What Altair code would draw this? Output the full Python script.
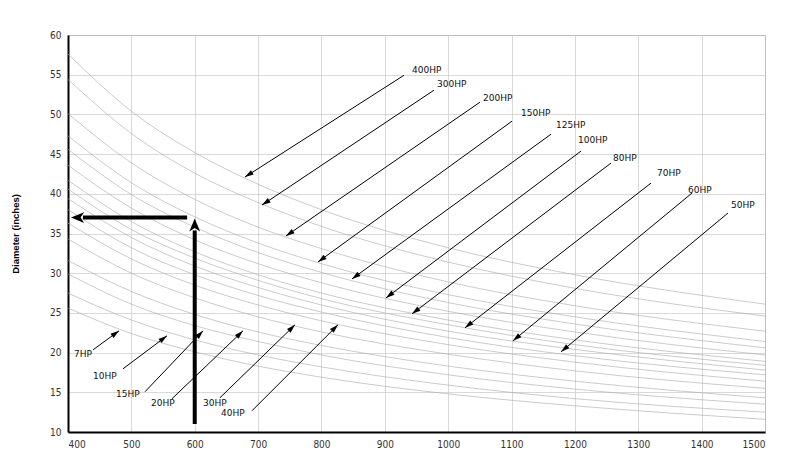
import math
import altair as alt
import pandas as pd

# ---------------- data ----------------
rpm = [400, 500, 600, 700, 800, 1000, 1200, 1500]

hp_names = ["7HP", "10HP", "15HP", "20HP", "30HP", "40HP", "50HP", "60HP",
            "70HP", "80HP", "100HP", "125HP", "150HP", "200HP", "300HP", "400HP"]

d_7 = [25.6, 22.4, 20.1, 18.3, 16.9, 14.8, 13.3, 11.6]
d_10 = [27.5, 24.1, 21.6, 19.7, 18.2, 15.9, 14.2, 12.5]
d_15 = [29.9, 26.1, 23.4, 21.4, 19.7, 17.2, 15.4, 13.5]
d_20 = [31.6, 27.7, 24.8, 22.6, 20.9, 18.3, 16.4, 14.3]
d_30 = [34.3, 30.0, 26.9, 24.5, 22.6, 19.8, 17.7, 15.5]
d_40 = [36.3, 31.8, 28.5, 26.0, 24.0, 21.0, 18.8, 16.4]
d_50 = [38.0, 33.2, 29.8, 27.2, 25.1, 21.9, 19.6, 17.2]
d_60 = [39.4, 34.5, 30.9, 28.2, 26.0, 22.7, 20.4, 17.8]
d_70 = [40.6, 35.5, 31.9, 29.1, 26.8, 23.5, 21.0, 18.4]
d_80 = [41.7, 36.5, 32.7, 29.8, 27.5, 24.1, 21.6, 18.9]
d_100 = [43.6, 38.2, 34.2, 31.2, 28.8, 25.2, 22.6, 19.7]
d_125 = [45.6, 39.9, 35.8, 32.6, 30.1, 26.3, 23.6, 20.6]
d_150 = [47.3, 41.4, 37.1, 33.8, 31.2, 27.3, 24.5, 21.4]
d_200 = [50.1, 43.9, 39.3, 35.8, 33.1, 28.9, 25.9, 22.7]
d_300 = [54.4, 47.6, 42.6, 38.9, 35.9, 31.4, 28.1, 24.6]
d_400 = [57.6, 50.4, 45.2, 41.2, 38.0, 33.2, 29.8, 26.1]

curve_values = [d_7, d_10, d_15, d_20, d_30, d_40, d_50, d_60,
                d_70, d_80, d_100, d_125, d_150, d_200, d_300, d_400]

arrow_labels = ["400HP", "300HP", "200HP", "150HP", "125HP", "100HP", "80HP", "70HP",
                "60HP", "50HP", "7HP", "10HP", "15HP", "20HP", "30HP", "40HP"]
arrow_x0 = [930.3, 977.6, 1050.2, 1100.7, 1162.3, 1209.6, 1257.0, 1320.1,
            1384.8, 1441.6, 439.5, 486.8, 521.5, 564.1, 639.9, 690.4]
arrow_y0 = [54.93, 53.05, 51.54, 49.15, 47.51, 45.38, 43.87, 41.35,
            40.09, 37.58, 20.35, 17.96, 15.07, 14.19, 14.32, 12.68]
arrow_x1 = [679.3, 706.2, 744.0, 794.6, 848.2, 901.9, 942.9, 1026.5,
            1102.3, 1178.1, 480.5, 556.2, 613.1, 676.2, 758.3, 826.1]
arrow_y1 = [42.11, 38.58, 34.69, 31.42, 29.28, 26.89, 24.88, 23.12,
            21.48, 20.10, 22.74, 22.11, 22.74, 22.74, 23.50, 23.50]
label_x = [942.9, 982.4, 1055.0, 1114.9, 1170.2, 1204.9, 1260.1, 1329.6,
           1378.5, 1446.3, 409.5, 439.5, 475.8, 531.0, 613.1, 641.5]
label_y = [55.56, 53.80, 52.04, 50.15, 48.64, 46.76, 44.50, 42.61,
           40.47, 38.58, 19.85, 17.08, 14.82, 13.69, 13.69, 12.43]

# example reading: 600 RPM up to the curve, then across to the diameter
ex_v_x = [600, 600]
ex_v_y = [11.0, 36.9]
ex_h_x = [588, 404.7]
ex_h_y = [37.0, 37.0]

x_ticks = [400, 500, 600, 700, 800, 900, 1000, 1100, 1200, 1300, 1400, 1500]
y_ticks = [10, 15, 20, 25, 30, 35, 40, 45, 50, 55, 60]

# ---------------- build tables ----------------
W, H = 697, 397
X_DOM = [400, 1500]
Y_DOM = [10, 60]
sx = W / (X_DOM[1] - X_DOM[0])
sy = H / (Y_DOM[1] - Y_DOM[0])

rows = []
for name, vals in zip(hp_names, curve_values):
    for r, v in zip(rpm, vals):
        rows.append({"hp": name, "rpm": r, "d": v})
curves = pd.DataFrame(rows)


def angle_of(x0, y0, x1, y1):
    dx = (x1 - x0) * sx
    dy = -(y1 - y0) * sy
    return math.degrees(math.atan2(dx, -dy)) % 360


arrows = pd.DataFrame({
    "label": arrow_labels, "x0": arrow_x0, "y0": arrow_y0,
    "x1": arrow_x1, "y1": arrow_y1, "lx": label_x, "ly": label_y,
})
arrows["ang"] = [angle_of(a, b, c, d) for a, b, c, d in
                 zip(arrow_x0, arrow_y0, arrow_x1, arrow_y1)]

big = pd.DataFrame({
    "x0": [ex_v_x[0], ex_h_x[0]],
    "y0": [ex_v_y[0], ex_h_y[0]],
    "x1": [ex_v_x[1], ex_h_x[1]],
    "y1": [ex_v_y[1], ex_h_y[1]],
})
big["ang"] = [angle_of(a, b, c, d) for a, b, c, d in
              zip(big.x0, big.y0, big.x1, big.y1)]
# stop the thick shaft short of the arrowhead tip (12 px)
big["xs"] = [x1 - 12 / sx * math.sin(math.radians(a)) for x1, a in zip(big.x1, big.ang)]
big["ys"] = [y1 - 12 / sy * math.cos(math.radians(a)) for y1, a in zip(big.y1, big.ang)]

xs = alt.Scale(domain=X_DOM, nice=False, zero=False)
ys = alt.Scale(domain=Y_DOM, nice=False, zero=False)

LABEL_FONT = "Liberation Sans Narrow, DejaVu Sans Condensed, Arial Narrow, sans-serif"

x_axis = alt.Axis(values=x_ticks, format="d", title=None, ticks=False,
                  labelPadding=7, labelFont=LABEL_FONT, labelFontSize=10,
                  labelColor="#333", grid=True, gridColor="#cfcfcf", gridWidth=0.8,
                  domainColor="black", domainWidth=2, labelOverlap=False)
y_axis = alt.Axis(values=y_ticks, format="d", title="Diameter (inches)", ticks=False,
                  labelPadding=7, labelFont=LABEL_FONT, labelFontSize=10,
                  labelColor="#333", grid=True, gridColor="#cfcfcf", gridWidth=0.8,
                  domainColor="black", domainWidth=2, titleFont="Liberation Sans, Arial",
                  titleFontSize=9.5, titleFontWeight="bold", titleColor="black",
                  titlePadding=29, labelOverlap=False)


def X(f):
    return alt.X(f, scale=xs, axis=x_axis)


def Y(f):
    return alt.Y(f, scale=ys, axis=y_axis)


lines = alt.Chart(curves).mark_line(color="#a8a8a8", strokeWidth=0.6,
                                    interpolate="monotone").encode(
    x=X("rpm:Q"), y=Y("d:Q"), detail="hp:N")

shafts = alt.Chart(arrows).mark_rule(color="black", strokeWidth=1).encode(
    x=X("x0:Q"), y=Y("y0:Q"), x2="x1:Q", y2="y1:Q")

heads = alt.Chart(arrows).mark_point(
    shape="M0,0L0.3,1L-0.3,1Z", filled=True, color="black", size=300, opacity=1
).encode(x=X("x1:Q"), y=Y("y1:Q"), angle=alt.Angle("ang:Q", scale=None))

texts = alt.Chart(arrows).mark_text(
    align="left", baseline="middle", font="DejaVu Sans", fontSize=9, color="#111"
).encode(x=X("lx:Q"), y=Y("ly:Q"), text="label:N")

big_shafts = alt.Chart(big).mark_rule(color="black", strokeWidth=4).encode(
    x=X("x0:Q"), y=Y("y0:Q"), x2="xs:Q", y2="ys:Q")

big_heads = alt.Chart(big).mark_point(
    shape="M0,0L0.45,1.1L0,0.8L-0.45,1.1Z", filled=True, color="black", size=576, opacity=1
).encode(x=X("x1:Q"), y=Y("y1:Q"), angle=alt.Angle("ang:Q", scale=None))

chart = alt.layer(lines, shafts, heads, texts, big_shafts, big_heads).properties(
    width=W, height=H,
    autosize=alt.AutoSizeParams(type="none"),
    padding={"left": 60, "top": 27, "right": 27, "bottom": 30},
    background="white",
).configure_view(stroke="#777", strokeWidth=1)

chart.save("out.html", embed_options={"renderer": "svg", "actions": False})
